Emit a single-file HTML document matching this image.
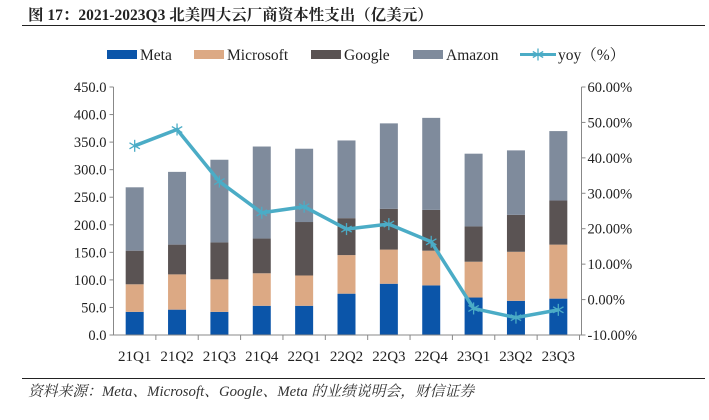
<!DOCTYPE html>
<html><head><meta charset="utf-8"><style>
body{margin:0;background:#fff;width:709px;height:415px;overflow:hidden}
text{font-family:"Liberation Serif","Noto Serif CJK SC",serif}
</style></head><body>
<svg id="chart" width="709" height="415">
<text x="28" y="20" font-size="15.5" font-weight="bold" fill="#222">图 17：2021-2023Q3 北美四大云厂商资本性支出（亿美元）</text>
<line x1="22" y1="25.5" x2="705" y2="25.5" stroke="#222" stroke-width="1"/>
<line x1="22" y1="378.5" x2="705" y2="378.5" stroke="#222" stroke-width="1"/>
<text x="28" y="396" font-size="14.8" font-style="italic" fill="#333">资料来源：Meta、Microsoft、Google、Meta 的业绩说明会，财信证券</text>
<g id="legend"></g>
<g id="plot"></g>
</svg>
<script>
const categories=["21Q1","21Q2","21Q3","21Q4","22Q1","22Q2","22Q3","22Q4","23Q1","23Q2","23Q3"];
const meta=[42,46,42,53,53,75,93,90,68,62,66];
const microsoft=[50,64,59,59,55,70,62,63,65,89,98];
const google=[61,54,67,63,97,67,74,74,64,67,80];
const amazon=[115,132,150,167,133,141,155,167,132,117,126];
const yoy=[43.4,48.0,33.3,24.5,26.2,19.9,21.3,16.3,-2.5,-5.1,-2.9];
const leftTicks=[0,50,100,150,200,250,300,350,400,450];
const rightTicks=[-10,0,10,20,30,40,50,60];
const NS="http://www.w3.org/2000/svg";
const X0=113.5,X1=581.5,Y0=335,Y1=87;
const step=(X1-X0-2)/categories.length;
const yL=v=>Y0-(v/450)*(Y0-Y1);
const yR=v=>Y0-((v+10)/70)*(Y0-Y1);
const xC=i=>X0+step*(i+0.5);
const plot=document.getElementById('plot');
function mk(tag,attrs,parent){const e=document.createElementNS(NS,tag);for(const k in attrs)e.setAttribute(k,attrs[k]);(parent||plot).appendChild(e);return e;}
const series=[["meta",meta,"#0b55a9"],["microsoft",microsoft,"#dca984"],["google",google,"#5a5353"],["amazon",amazon,"#7f8b9c"]];
categories.forEach((c,i)=>{let base=0;series.forEach(([n,arr,col])=>{const r=mk('rect',{x:xC(i)-9,y:yL(base+arr[i]),width:18,height:yL(base)-yL(base+arr[i]),fill:col});


base+=arr[i];});
const t=mk('text',{x:xC(i),y:361,'font-size':15,'text-anchor':'middle',fill:'#222'});t.textContent=c;


mk('line',{x1:X0+step*(i+1),y1:Y0,x2:X0+step*(i+1),y2:Y0+5,stroke:'#888'});});
mk('line',{x1:X0,y1:Y1,x2:X0,y2:Y0,stroke:'#888'});
mk('line',{x1:X1,y1:Y1,x2:X1,y2:Y0,stroke:'#888'});
mk('line',{x1:X0,y1:Y0,x2:X1,y2:Y0,stroke:'#888'});
leftTicks.forEach(v=>{mk('line',{x1:X0-4,y1:yL(v),x2:X0,y2:yL(v),stroke:'#888'});const t=mk('text',{x:X0-7,y:yL(v)+5,'font-size':14.5,'text-anchor':'end',fill:'#222'});t.textContent=v.toFixed(1);

});
rightTicks.forEach(v=>{mk('line',{x1:X1,y1:yR(v),x2:X1+4,y2:yR(v),stroke:'#888'});const t=mk('text',{x:X1+6,y:yR(v)+5,'font-size':14.5,fill:'#222'});t.textContent=v.toFixed(2)+'%';

});
const pl=mk('polyline',{points:yoy.map((v,i)=>xC(i)+','+yR(v)).join(' '),fill:'none',stroke:'#4bacc6','stroke-width':3.5});


function star(x,y,p){const g=mk('g',{stroke:'#4bacc6','stroke-width':1.3},p);[[0,6],[5.2,3],[5.2,-3]].forEach(([dx,dy])=>mk('line',{x1:x-dx,y1:y-dy,x2:x+dx,y2:y+dy},g));return g;}
yoy.forEach((v,i)=>{const g=star(xC(i),yR(v));

});
const lg=document.getElementById('legend');
[["Meta","#0b55a9",107],["Microsoft","#dca984",194],["Google","#5a5353",311],["Amazon","#7f8b9c",413]].forEach(([n,col,x])=>{const r=mk('rect',{x:x,y:50,width:30,height:9,fill:col},lg);


const t=mk('text',{x:x+33,y:60,'font-size':15.5,fill:'#222'},lg);t.textContent=n;

});
mk('line',{x1:520,y1:54.5,x2:556,y2:54.5,stroke:'#4bacc6','stroke-width':3},lg);
star(538,54.5,lg);
const yt=mk('text',{x:558,y:60,'font-size':15.5,fill:'#222'},lg);yt.textContent='yoy（%）';


</script>
</body></html>
